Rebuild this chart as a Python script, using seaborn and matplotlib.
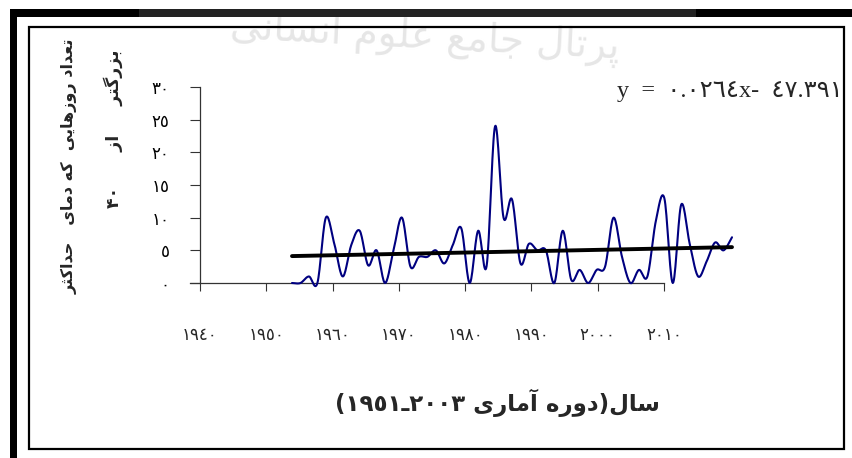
import re
import numpy as np
import pandas as pd
import matplotlib
matplotlib.use("Agg")
import matplotlib.pyplot as plt
import seaborn as sns
from matplotlib.patches import Rectangle

# ---------------- data ----------------
years = list(range(1951, 2004))
days_above_40 = [0, 0, 1, 0, 10, 6, 1, 5.8, 8, 2.7,
                 5, 0, 5, 10, 2.5, 4, 4, 5, 3, 5.8,
                 8.4, 0, 8, 2.6, 24, 10, 12.8, 3, 6, 5,
                 5, 0, 8, 0.5, 2, 0, 2, 2.5, 10, 4,
                 0, 2, 1, 9.5, 13, 0, 12, 6, 1, 3.3,
                 6.2, 5, 7]
trend_years = [1951, 2003]
trend_values = [4.12, 5.49]

x_tick_years = [1940, 1950, 1960, 1970, 1980, 1990, 2000, 2010]
x_tick_labels = ["١٩٤٠", "١٩٥٠", "١٩٦٠", "١٩٧٠", "١٩٨٠", "١٩٩٠", "٢٠٠٠", "٢٠١٠"]
y_ticks = [0, 5, 10, 15, 20, 25, 30]
y_tick_labels = ["٠", "٥", "١٠", "١٥", "٢٠", "٢٥", "٣٠"]

ylabel_line1 = "تعداد روزهایی  که دمای   حداکثر"
ylabel_line2 = "بزرگتر     از      ۴۰"
xlabel_text = "سال(دوره آماری ٢٠٠٣ـ١٩٥١)"
equation_text = "y  =  ٠.٠٢٦٤x-  ٤٧.٣٩١"
watermark_text = "پرتال جامع علوم انسانی"

# ---------------- Arabic-script shaping (presentation forms) ----------------
FORMS = {
    'ا': ('\uFE8D', '\uFE8E', None, None),
    'آ': ('\uFE81', '\uFE82', None, None),
    'ب': ('\uFE8F', '\uFE90', '\uFE91', '\uFE92'),
    'پ': ('\uFB56', '\uFB57', '\uFB58', '\uFB59'),
    'ت': ('\uFE95', '\uFE96', '\uFE97', '\uFE98'),
    'ث': ('\uFE99', '\uFE9A', '\uFE9B', '\uFE9C'),
    'ج': ('\uFE9D', '\uFE9E', '\uFE9F', '\uFEA0'),
    'ح': ('\uFEA1', '\uFEA2', '\uFEA3', '\uFEA4'),
    'د': ('\uFEA9', '\uFEAA', None, None),
    'ر': ('\uFEAD', '\uFEAE', None, None),
    'ز': ('\uFEAF', '\uFEB0', None, None),
    'س': ('\uFEB1', '\uFEB2', '\uFEB3', '\uFEB4'),
    'ع': ('\uFEC9', '\uFECA', '\uFECB', '\uFECC'),
    'ل': ('\uFEDD', '\uFEDE', '\uFEDF', '\uFEE0'),
    'م': ('\uFEE1', '\uFEE2', '\uFEE3', '\uFEE4'),
    'ن': ('\uFEE5', '\uFEE6', '\uFEE7', '\uFEE8'),
    'ه': ('\uFEE9', '\uFEEA', '\uFEEB', '\uFEEC'),
    'و': ('\uFEED', '\uFEEE', None, None),
    'ی': ('\uFEEF', '\uFEF0', '\uFEF3', '\uFEF4'),
    'ک': ('\uFB8E', '\uFB8F', '\uFEDB', '\uFEDC'),
    'گ': ('\uFB92', '\uFB93', '\uFB94', '\uFB95'),
}


def shape(s):
    def joins_fwd(c):
        f = FORMS.get(c)
        return (f is not None and f[2] is not None) or c == '\u0640'

    def is_ar(c):
        return c in FORMS or c == '\u0640'

    out = []
    for i, c in enumerate(s):
        if c not in FORMS:
            out.append(c)
            continue
        f = FORMS[c]
        prev = i > 0 and joins_fwd(s[i - 1])
        nxt = f[2] is not None and i + 1 < len(s) and is_ar(s[i + 1])
        if prev and nxt:
            out.append(f[3])
        elif prev:
            out.append(f[1])
        elif nxt:
            out.append(f[2])
        else:
            out.append(f[0])
    vis = ''.join(out)[::-1]
    vis = re.sub(r'[0-9\u0660-\u0669\u06F0-\u06F9.]+', lambda m: m.group(0)[::-1], vis)
    return vis.translate(str.maketrans('()', ')('))


def catmull_rom(xv, yv, n=16):
    # Excel-like smoothed line rendering through the data points
    x = np.asarray(xv, float)
    y = np.asarray(yv, float)
    xp = np.concatenate([[2 * x[0] - x[1]], x, [2 * x[-1] - x[-2]]])
    yp = np.concatenate([[2 * y[0] - y[1]], y, [2 * y[-1] - y[-2]]])
    xs, ys = [], []
    t = np.linspace(0, 1, n, endpoint=False)
    for i in range(1, len(xp) - 2):
        for arr, res in ((xp, xs), (yp, ys)):
            p0, p1, p2, p3 = arr[i - 1], arr[i], arr[i + 1], arr[i + 2]
            res.extend(0.5 * (2 * p1 + (-p0 + p2) * t + (2 * p0 - 5 * p1 + 4 * p2 - p3) * t ** 2
                              + (-p0 + 3 * p1 - 3 * p2 + p3) * t ** 3))
    xs.append(x[-1])
    ys.append(y[-1])
    return np.array(xs), np.array(ys)


# ---------------- figure ----------------
sns.set_theme(style="white")
plt.rcParams["font.family"] = ["DejaVu Sans"]

W, H = 853, 458
fig = plt.figure(figsize=(W / 100, H / 100), dpi=100)


def fx(px):
    return px / W


def fy(py):
    return 1 - py / H


ax_l, ax_r, ax_b, ax_t = 200, 664, 283, 87
ax = fig.add_axes([fx(ax_l), fy(ax_b), fx(ax_r - ax_l), (ax_b - ax_t) / H])
ax.set_facecolor("none")

sx, sy = catmull_rom(years, days_above_40)
curve = pd.DataFrame({"year": sx, "days": sy})
sns.lineplot(data=curve, x="year", y="days", sort=False, estimator=None,
             color="#000080", linewidth=1.5, ax=ax, clip_on=False, zorder=3)
trend = pd.DataFrame({"year": trend_years, "days": trend_values})
sns.lineplot(data=trend, x="year", y="days", sort=False, estimator=None,
             color="black", linewidth=2.8, ax=ax, clip_on=False, zorder=4)

# data x-scale: 1951 at px 292, 2003 at px 732
ppy = (732 - 292) / (2003 - 1951)
x0 = 1951 - (292 - ax_l) / ppy
x1 = 2003 - (732 - ax_r) / ppy
ax.set_xlim(x0, x1)
ax.set_ylim(0, 30)
ax.set_xticks([])
ax.set_xlabel("")
ax.set_ylabel("")
ax.set_yticks(y_ticks)
ax.set_yticklabels(y_tick_labels)
ax.tick_params(axis="y", left=True, length=7, width=0.8, color="#333333",
               pad=15, labelsize=12, labelcolor="black")
for s in ("top", "right"):
    ax.spines[s].set_visible(False)
for s in ("left", "bottom"):
    ax.spines[s].set_color("#333333")
    ax.spines[s].set_linewidth(0.9)
ax.spines["bottom"].set_bounds(x0 - 10 / ppy, x1)

# category-style axis labels 1940..2010
ax2 = ax.twiny()
ax2.set_xlim(1940, 2010)
ax2.set_xticks(x_tick_years)
ax2.set_xticklabels(x_tick_labels)
ax2.xaxis.set_ticks_position("bottom")
ax2.xaxis.set_label_position("bottom")
ax2.tick_params(axis="x", bottom=True, top=False, labelbottom=True, labeltop=False,
                length=6, width=0.8, color="#333333", pad=25, labelsize=12)
for s in ax2.spines.values():
    s.set_visible(False)
ax2.grid(False)
ax.grid(False)

# texts
fig.text(fx(70), fy(39), shape(ylabel_line1), rotation=90, ha="center", va="top",
         fontsize=11.5, fontweight="bold", zorder=5)
fig.text(fx(113), fy(50), shape(ylabel_line2), rotation=90, ha="center", va="top",
         fontsize=12.5, fontweight="bold", zorder=5)
fig.text(fx(497), fy(403), shape(xlabel_text), ha="center", va="center",
         fontsize=16.5, fontweight="bold", zorder=5)
fig.text(fx(617), fy(91), equation_text, ha="left", va="center", fontsize=17.5,
         family=["Liberation Serif", "DejaVu Sans"], zorder=5)
fig.text(fx(425), fy(38), shape(watermark_text), ha="center", va="center",
         fontsize=28, color="#e6e6e6", rotation=-3, zorder=0)

# frames
fig.patches.append(Rectangle((fx(845), fy(449)), fx(W - 845), (449 - 20) / H,
                             transform=fig.transFigure, facecolor="white",
                             edgecolor="none", zorder=6))
fig.patches.append(Rectangle((fx(10), fy(458)), fx(7), 449 / H, transform=fig.transFigure,
                             facecolor="black", edgecolor="none", zorder=7))
fig.patches.append(Rectangle((fx(10), fy(17)), fx(W - 10), 8 / H, transform=fig.transFigure,
                             facecolor="black", edgecolor="none", zorder=7))
fig.patches.append(Rectangle((fx(139), fy(17)), fx(696 - 139), 8 / H, transform=fig.transFigure,
                             facecolor="#222222", edgecolor="none", zorder=8))
fig.patches.append(Rectangle((fx(29.5), fy(448.5)), fx(844 - 29.5), (448.5 - 26.5) / H,
                             transform=fig.transFigure, facecolor="none",
                             edgecolor="black", linewidth=1.6, zorder=9))

fig.savefig("out.png", dpi=100)
